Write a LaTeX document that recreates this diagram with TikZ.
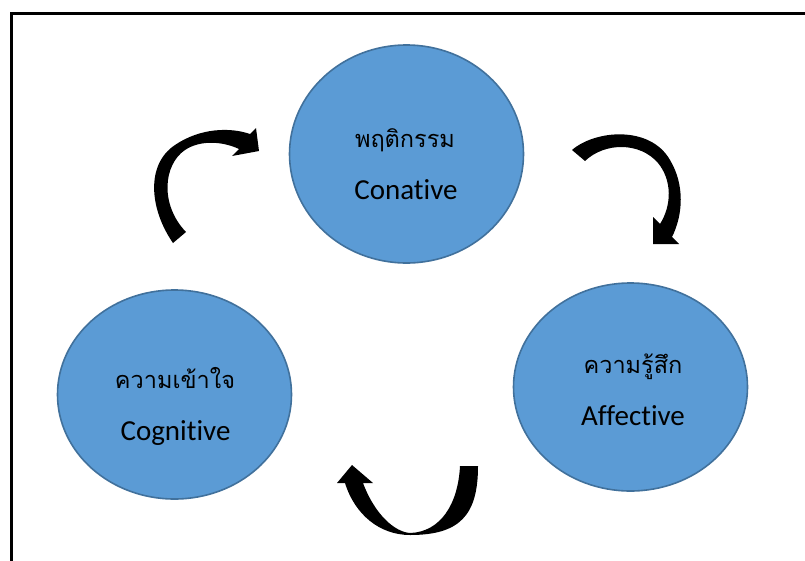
\documentclass[tikz,border=0pt]{standalone}
\usepackage{fontspec}
\setmainfont{Carlito}[Ligatures=NoCommon]
\newfontfamily\thaifont[Script=Thai]{Loma}
\usepackage{xcolor}
\usepackage{tikz}
\usetikzlibrary{shapes.geometric}
\definecolor{bubblefill}{HTML}{5B9BD5}
\definecolor{bubbleline}{HTML}{41719C}

\begin{document}
\begin{tikzpicture}[x=1pt, y=-1pt,
    bubble/.style={ellipse, draw=bubbleline, fill=bubblefill, line width=1.6pt, inner sep=0pt, minimum width=234pt},
    thailabel/.style={anchor=base, inner sep=0pt, font=\thaifont\fontsize{23.5}{28}\selectfont},
    englabel/.style={anchor=base, inner sep=0pt, font=\fontsize{29}{34}\selectfont},
    cyclearrow/.style={fill=black}]
        \path[use as bounding box, fill=white] (0,0) rectangle (805,560);
        \clip (0,0) rectangle (805,560);
        \draw[line width=3pt] (11,580) -- (11,13) -- (830,13);

        \node[bubble, minimum height=218pt] (conative) at (406.5,154) {};
        \node[bubble, minimum height=209pt] (cognitive) at (174.5,394.5) {};
        \node[bubble, minimum height=208pt] (affective) at (630.5,387) {};

        \node[thailabel] (conativeth) at (405,147) {พฤติกรรม};
        \node[englabel] (conativeen) at (406,199) {Conative};
        \node[thailabel] (cognitiveth) at (175,388) {ความเข้าใจ};
        \node[englabel] (cognitiveen) at (175.5,440) {Cognitive};
        \node[thailabel] (affectiveth) at (633,373) {ความรู้สึก};
        \node[englabel] (affectiveen) at (633,425) {Affective};

        \fill[cyclearrow] (173,243) .. controls (150,210) and (145,165) .. (175,145)
            .. controls (200,128) and (230,127) .. (250,134) -- (256,128) -- (259,151)
            -- (232,156) -- (239,149) .. controls (222,141) and (200,140) .. (185,150)
            .. controls (163,165) and (160,205) .. (186,232) -- cycle;
        \fill[cyclearrow] (572,150) .. controls (595,130) and (650,125) .. (670,160)
            .. controls (685,185) and (683,215) .. (672,237) -- (679,244) -- (653,244)
            -- (653,217) -- (660,224) .. controls (672,205) and (672,180) .. (658,163)
            .. controls (640,142) and (605,142) .. (585,161) -- cycle;
        \fill[cyclearrow] (460,466) -- (478,466) .. controls (478,515) and (460,535) .. (410,535)
            .. controls (380,535) and (355,515) .. (345,483) -- (337,483) -- (352,465)
            -- (373,483) -- (363,483) .. controls (375,515) and (395,532) .. (410,533)
            .. controls (440,532) and (458,505) .. (460,466) -- cycle;
    \end{tikzpicture}
\end{document}
